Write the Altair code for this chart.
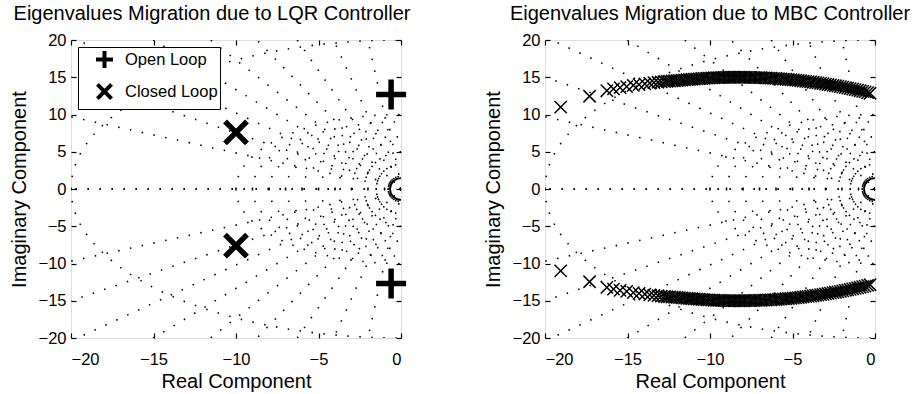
import altair as alt
import pandas as pd
import numpy as np

FONT = "Liberation Sans"

TITLE_LQR = "Eigenvalues Migration due to LQR Controller"
TITLE_MBC = "Eigenvalues Migration due to MBC Controller"
X_LABEL = "Real Component"
Y_LABEL = "Imaginary Component"
LEGEND_LABELS = ["Open Loop", "Closed Loop"]

x_ticks = [-20, -15, -10, -5, 0]
y_ticks = [-20, -15, -10, -5, 0, 5, 10, 15, 20]

# LQR panel
open_loop_re = [-0.6, -0.6]
open_loop_im = [12.7, -12.7]
closed_loop_re = [-10.0, -10.0]
closed_loop_im = [7.6, -7.6]

# pole at the origin (drawn as a small circle, half hidden by the frame)
origin_re = [0.0]
origin_im = [0.0]

# MBC panel: eigenvalue migration (upper branch)
mbc_re = [-19.05, -17.3, -16.25, -15.85, -15.45, -15.05, -14.65, -14.3, -13.95, -13.65,
          -13.4, -13.15, -12.95,
          -12.75, -12.6, -12.45, -12.3, -12.15, -12.0, -11.85, -11.7, -11.55, -11.4,
          -11.25, -11.1, -10.95, -10.8, -10.65, -10.5, -10.35, -10.2, -10.05, -9.9,
          -9.75, -9.6, -9.45, -9.3, -9.15, -9.0, -8.85, -8.7, -8.55, -8.4,
          -8.25, -8.1, -7.95, -7.8, -7.65, -7.5, -7.35, -7.2, -7.05, -6.9,
          -6.75, -6.6, -6.45, -6.3, -6.15, -6.0, -5.85, -5.7, -5.55, -5.4,
          -5.25, -5.1, -4.95, -4.8, -4.65, -4.5, -4.35, -4.2, -4.05, -3.9,
          -3.75, -3.6, -3.45, -3.3, -3.15, -3.0, -2.85, -2.7, -2.55, -2.4,
          -2.25, -2.1, -1.95, -1.8, -1.65, -1.5, -1.35, -1.2, -1.05, -0.9,
          -0.75, -0.6, -0.45, -0.3]
mbc_im = [11.0, 12.45, 13.2, 13.45, 13.6, 13.75, 13.9, 14.0, 14.1, 14.2,
          14.27, 14.33, 14.38,
          14.43, 14.46, 14.49, 14.51, 14.53, 14.55, 14.58, 14.61, 14.64, 14.67,
          14.70, 14.73, 14.75, 14.78, 14.80, 14.83, 14.85, 14.87, 14.89, 14.91,
          14.93, 14.94, 14.96, 14.97, 14.98, 14.99, 15.0, 15.0, 15.0, 15.0,
          15.0, 15.0, 15.0, 14.99, 14.99, 14.98, 14.97, 14.96, 14.95, 14.94,
          14.92, 14.91, 14.89, 14.87, 14.86, 14.84, 14.81, 14.79, 14.76, 14.73,
          14.70, 14.67, 14.64, 14.61, 14.57, 14.53, 14.49, 14.45, 14.41, 14.37,
          14.33, 14.28, 14.24, 14.19, 14.14, 14.09, 14.03, 13.98, 13.92, 13.86,
          13.80, 13.74, 13.68, 13.61, 13.55, 13.48, 13.41, 13.34, 13.27, 13.19,
          13.11, 13.03, 12.94, 12.85]

# s-plane grid (damping ratio lines and natural-frequency circles)
zeta_list = [0.1, 0.2, 0.3, 0.4, 0.5, 0.6, 0.7, 0.8, 0.9, 1.0]
wn_list = [1, 2, 3, 4, 5, 6, 7, 8, 9, 10, 20]

PLUS = "M-1,0H1M0,-1V1"
CROSS = "M-0.83,-0.83L0.83,0.83M-0.83,0.83L0.83,-0.83"
XMARK = "M-1,-1L1,1M-1,1L1,-1"

# ---- build tables ----
rows = []
gid = 0
for z in zeta_list:
    for s in (1, -1):
        rows.append(dict(g=gid, k=0, re=0.0, im=0.0))
        rows.append(dict(g=gid, k=1, re=-40 * z, im=s * 40 * np.sqrt(1 - z * z)))
        gid += 1
tt = np.linspace(0, np.pi / 2, 121)
for w in wn_list:
    for s in (1, -1):
        for k, t in enumerate(tt):
            rows.append(dict(g=gid, k=k, re=-w * np.cos(t), im=s * w * np.sin(t)))
        gid += 1
grid_df = pd.DataFrame(rows)

ol_df = pd.DataFrame({"re": open_loop_re, "im": open_loop_im})
cl_df = pd.DataFrame({"re": closed_loop_re, "im": closed_loop_im})
origin_df = pd.DataFrame({"re": origin_re, "im": origin_im})
legend_df = pd.DataFrame({"re": [-10.0, -10.0], "im": [0.0, 0.0], "kind": LEGEND_LABELS})
mbc_df = pd.concat([
    pd.DataFrame({"re": mbc_re, "im": mbc_im}),
    pd.DataFrame({"re": mbc_re, "im": [-v for v in mbc_im]}),
])
frame_df = pd.DataFrame({"re": [-20, 0], "im": [-20, 20]})

xs = alt.Scale(domain=[-20, 0], nice=False, zero=False)
ys = alt.Scale(domain=[-20, 20], nice=False, zero=False)

common_axis = dict(domain=False, grid=False, tickColor="black", tickWidth=1.2,
                   labelFont=FONT, labelFontSize=16.5, labelColor="black",
                   titleFont=FONT, titleFontSize=20, titleColor="black",
                   titleFontWeight="normal")

ax_bottom = alt.Axis(orient="bottom", values=x_ticks, format="d", offset=-5, tickSize=5,
                     labelPadding=13, title=X_LABEL, titlePadding=4, **common_axis)
ax_left = alt.Axis(orient="left", values=y_ticks, format="d", offset=-5, tickSize=5,
                   labelPadding=5, title=Y_LABEL, titlePadding=9, **common_axis)
ax_top = alt.Axis(orient="top", values=x_ticks, offset=-5, tickSize=5, labels=False,
                  title=None, **common_axis)
ax_right = alt.Axis(orient="right", values=y_ticks, offset=-5, tickSize=5, labels=False,
                    title=None, **common_axis)


def grid_layer():
    return alt.Chart(grid_df).mark_line(
        stroke="black", strokeWidth=1.6, strokeDash=[1.5, 10.5], clip=True
    ).encode(
        x=alt.X("re:Q", scale=xs, axis=ax_bottom),
        y=alt.Y("im:Q", scale=ys, axis=ax_left),
        detail="g:N",
        order="k:Q",
    )


def frame_layer():
    return alt.Chart(frame_df).mark_point(opacity=0).encode(
        x=alt.X("re:Q", scale=xs, axis=ax_top),
        y=alt.Y("im:Q", scale=ys, axis=ax_right),
    )


def origin_layer():
    return alt.Chart(origin_df).mark_point(shape="circle", size=480, filled=False,
                                           strokeWidth=1.8, color="black", opacity=1,
                                           clip=True).encode(
        x=alt.X("re:Q", scale=xs, axis=None), y=alt.Y("im:Q", scale=ys, axis=None),
    )


shape_scale = alt.Scale(domain=LEGEND_LABELS, range=[PLUS, CROSS])
leg = alt.Legend(title=None, orient="top-left", offset=7, padding=2, symbolOffset=14,
                 symbolSize=289, symbolStrokeWidth=4, symbolStrokeColor="black",
                 symbolFillColor="transparent",
                 labelFont=FONT, labelFontSize=16.5, labelColor="black", labelOffset=10,
                 strokeColor="black", fillColor="white", rowPadding=0,
                 labelExpr="datum.label + '\u00a0\u00a0\u00a0\u00a0\u00a0'")

# legend-only layer (no rows drawn)
legend_layer = alt.Chart(legend_df).transform_filter("false").mark_point(
    filled=False, size=289, strokeWidth=4, color="black", opacity=1
).encode(
    x=alt.X("re:Q", scale=xs, axis=None), y=alt.Y("im:Q", scale=ys, axis=None),
    shape=alt.Shape("kind:N", scale=shape_scale, legend=leg),
)

ol_layer = alt.Chart(ol_df).mark_point(shape=PLUS, filled=False, size=900, strokeWidth=5.5,
                                       color="black", opacity=1).encode(
    x=alt.X("re:Q", scale=xs, axis=None), y=alt.Y("im:Q", scale=ys, axis=None),
)
cl_layer = alt.Chart(cl_df).mark_point(shape=CROSS, filled=False, size=703, strokeWidth=5.5,
                                       color="black", opacity=1).encode(
    x=alt.X("re:Q", scale=xs, axis=None), y=alt.Y("im:Q", scale=ys, axis=None),
)

mbc_layer = alt.Chart(mbc_df).mark_point(shape=XMARK, filled=False, size=150,
                                         strokeWidth=1.5, color="black", opacity=1).encode(
    x=alt.X("re:Q", scale=xs, axis=None), y=alt.Y("im:Q", scale=ys, axis=None),
)

W, H = 330, 298
title_common = dict(font=FONT, fontSize=20, fontWeight="normal", color="black",
                    anchor="middle", offset=8)

left = alt.layer(grid_layer(), frame_layer(), origin_layer(), ol_layer, cl_layer,
                 legend_layer).resolve_axis(
    x="independent", y="independent"
).properties(width=W, height=H,
             title=alt.TitleParams(TITLE_LQR, dx=-24, **title_common))

right = alt.layer(grid_layer(), frame_layer(), origin_layer(), mbc_layer).resolve_axis(
    x="independent", y="independent"
).properties(width=W, height=H,
             title=alt.TitleParams(TITLE_MBC, **title_common))

chart = alt.HConcatChart(hconcat=[left, right], spacing=144, bounds="flush").properties(
    padding={"left": 8, "top": 3, "right": 5, "bottom": 5}
).configure_view(stroke="black", strokeWidth=1.5).configure(background="white")

chart.save("out.html", embed_options={"renderer": "svg", "actions": False})
